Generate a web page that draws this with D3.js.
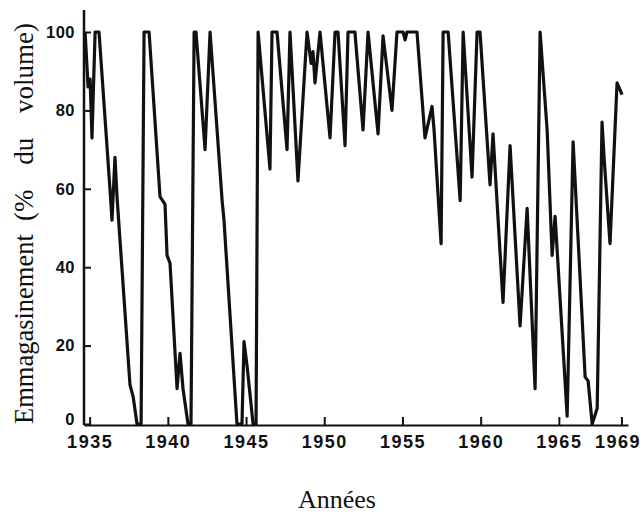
<!DOCTYPE html>
<html lang="fr">
<head>
<meta charset="utf-8">
<style>
  body { margin: 0; background: #fff; }
  .tick text { font-family: "Liberation Sans", Arial, sans-serif; font-weight: bold; fill: #111; }
  .xaxis .tick text { font-size: 18px; letter-spacing: 1.5px; }
  .yaxis .tick text { font-size: 16.5px; letter-spacing: 0.5px; }
  .tick line, .domain { stroke: #111; stroke-width: 2px; }
  .title { font-family: "Liberation Serif", "Times New Roman", serif; fill: #111; }
</style>
</head>
<body>
<svg width="640" height="513"></svg>
<script src="https://cdn.jsdelivr.net/npm/d3@7"></script>
<script>
// reservoir storage (turning points)
var years = [
  1934.71, 1934.90, 1935.03, 1935.15, 1935.35, 1935.60, 1936.30, 1936.43, 1936.62, 1936.75,
  1937.58, 1937.78, 1938.03, 1938.29, 1938.48, 1938.80, 1939.50, 1939.82, 1939.95, 1940.14,
  1940.59, 1940.78, 1940.97, 1941.29, 1941.48, 1941.68, 1941.80, 1942.38, 1942.70, 1943.47,
  1943.59, 1944.42, 1944.74, 1944.87, 1945.06, 1945.45, 1945.64, 1945.77, 1946.53, 1946.66,
  1946.98, 1947.62, 1947.81, 1948.32, 1948.90, 1949.16, 1949.28, 1949.41, 1949.73, 1950.37,
  1950.69, 1950.88, 1951.33, 1951.52, 1951.96, 1952.48, 1952.80, 1953.44, 1953.76, 1954.33,
  1954.65, 1955.04, 1955.17, 1955.29, 1955.93, 1956.44, 1956.89, 1957.02, 1957.47, 1957.60,
  1957.92, 1958.69, 1958.88, 1959.45, 1959.77, 1959.96, 1960.60, 1960.79, 1961.43, 1961.88,
  1962.52, 1962.97, 1963.48, 1963.80, 1964.25, 1964.57, 1964.76, 1965.53, 1965.91, 1966.68,
  1966.87, 1967.13, 1967.45, 1967.76, 1967.89, 1968.27, 1968.72, 1969.04
];
var storage = [
  100, 86, 88, 73, 100, 100, 60, 52, 68, 58,
  10, 7, 0, 0, 100, 100, 58, 56, 43, 41,
  9, 18, 9, 0, 0, 100, 100, 70, 100, 57,
  52, 0, 0, 21, 15, 0, 0, 100, 65, 100,
  100, 70, 100, 62, 100, 92, 95, 87, 100, 73,
  100, 100, 71, 100, 100, 75, 100, 74, 99, 80,
  100, 100, 98, 100, 100, 73, 81, 75, 46, 100,
  100, 57, 100, 63, 100, 100, 61, 74, 31, 71,
  25, 55, 9, 100, 75, 43, 53, 2, 72, 12,
  11, 0, 4, 77, 68, 46, 87, 84
];
var yTicks = [0, 20, 40, 60, 80, 100];
var xTicks = [1935, 1940, 1945, 1950, 1955, 1960, 1965, 1969];

var svg = d3.select("svg");

var x = d3.scaleLinear().domain([1934.64, 1969.42]).range([84, 628]);
var y = d3.scaleLinear().domain([0, 100]).range([424, 32]);

// x axis, ticks pointing inward
var xAxis = svg.append("g")
    .attr("class", "xaxis")
    .attr("transform", "translate(0,425)")
    .call(d3.axisBottom(x).tickValues(xTicks).tickFormat(d3.format("d"))
        .tickSizeInner(-8).tickSizeOuter(0).tickPadding(10));
xAxis.selectAll(".tick").filter(function (d) { return d === 1969; })
    .select("text").attr("dx", -4);

// y axis
var yAxis = svg.append("g")
    .attr("class", "yaxis")
    .attr("transform", "translate(84,0)")
    .call(d3.axisLeft(y).tickValues(yTicks).tickSizeInner(-7).tickSizeOuter(0).tickPadding(9));
yAxis.select(".domain").remove();
yAxis.selectAll(".tick").filter(function (d) { return d === 0; })
    .select("text").attr("dy", "0.02em");
svg.append("line")
    .attr("x1", 84).attr("x2", 84).attr("y1", 10).attr("y2", 425)
    .attr("stroke", "#111").attr("stroke-width", 2.5);

var line = d3.line()
    .x(function (d, i) { return x(years[i]); })
    .y(function (d) { return y(d); });

svg.append("path")
    .datum(storage)
    .attr("d", line)
    .attr("fill", "none")
    .attr("stroke", "#111")
    .attr("stroke-width", 3.2)
    .attr("stroke-linejoin", "round");

// axis titles
svg.append("text")
    .attr("class", "title")
    .attr("transform", "translate(33,424) rotate(-90)")
    .attr("font-size", 26.5)
    .text("Emmagasinement");
svg.append("text")
    .attr("class", "title")
    .attr("transform", "translate(33,221) rotate(-90)")
    .attr("font-size", 27)
    .attr("word-spacing", 18)
    .text("(% du volume)");

svg.append("text")
    .attr("class", "title")
    .attr("x", 337).attr("y", 508)
    .attr("text-anchor", "middle")
    .attr("font-size", 26)
    .text("Années");
</script>
</body>
</html>
